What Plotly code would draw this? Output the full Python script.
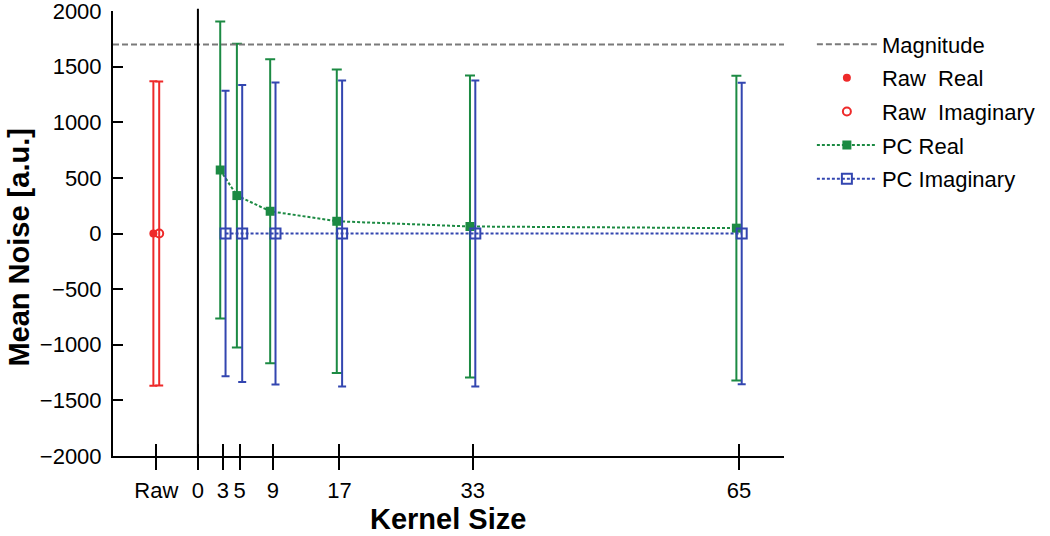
import plotly.graph_objects as go

# ---- data ----
kernel_sizes = [3, 5, 9, 17, 33, 65]
pc_real_mean = [571, 341, 200, 110, 63, 48]
pc_real_sd = [1335, 1366, 1366, 1365, 1358, 1370]
pc_imag_mean = [0, 0, 0, 0, 0, 0]
pc_imag_sd = [1283, 1335, 1358, 1375, 1375, 1355]

raw_position = -5
raw_real_mean = [0]
raw_real_sd = [1370]
raw_imag_mean = [0]
raw_imag_sd = [1368]

magnitude_level = 1700

x_tickvals = [-5, 0, 3, 5, 9, 17, 33, 65]
x_ticktext = ["Raw", "0", "3", "5", "9", "17", "33", "65"]
y_tickvals = [-2000, -1500, -1000, -500, 0, 500, 1000, 1500, 2000]

x_range = [-10.2, 70.4]
y_range = [-2001, 2001]

# ---- styles ----
GREEN = "#1c8a43"
BLUE = "#3346b0"
RED = "#ee2a2a"
GRAY = "#7a7a7a"
FONT = "Liberation Sans, Arial, sans-serif"
off = 0.32

fig = go.Figure()

fig.add_trace(go.Scatter(
    x=x_range, y=[magnitude_level, magnitude_level], xaxis="x2",
    mode="lines", name="Magnitude", legendgroup="a",
    line=dict(color=GRAY, width=2, dash="6px,3px"),
))

fig.add_trace(go.Scatter(
    x=[raw_position - 0.35], y=raw_real_mean, mode="markers",
    name="Raw \u00a0Real", legendgroup="b",
    marker=dict(symbol="circle", size=8, color=RED),
    error_y=dict(type="data", array=raw_real_sd, color=RED, thickness=2, width=4),
))
fig.add_trace(go.Scatter(
    x=[raw_position + 0.35], y=raw_imag_mean, mode="markers",
    name="Raw \u00a0Imaginary", legendgroup="c",
    marker=dict(symbol="circle-open", size=8, color=RED, line=dict(width=2)),
    error_y=dict(type="data", array=raw_imag_sd, color=RED, thickness=2, width=4),
))

fig.add_trace(go.Scatter(
    x=[k - off for k in kernel_sizes], y=pc_real_mean, mode="lines+markers",
    name="PC Real", legendgroup="d",
    line=dict(color=GREEN, width=2, dash="3px,2px"),
    marker=dict(symbol="square", size=9, color=GREEN),
    error_y=dict(type="data", array=pc_real_sd, color=GREEN, thickness=2, width=5),
))
fig.add_trace(go.Scatter(
    x=[k + off for k in kernel_sizes], y=pc_imag_mean, mode="lines+markers",
    name="PC Imaginary", legendgroup="e",
    line=dict(color=BLUE, width=2, dash="3px,2px"),
    marker=dict(symbol="square-open", size=10, color=BLUE, line=dict(width=2)),
    error_y=dict(type="data", array=pc_imag_sd, color=BLUE, thickness=2, width=4),
))

fig.add_shape(type="line", xref="x", yref="paper", x0=0, x1=0, y0=0, y1=1.005,
              line=dict(color="black", width=2))

fig.add_annotation(
    text="<b>Mean Noise [a.u.]</b>", textangle=-90,
    xref="paper", yref="paper", x=(19 - 113) / 672, y=(456 - 247) / 446,
    xanchor="center", yanchor="middle", showarrow=False,
    font=dict(family=FONT, size=29, color="black"),
)
fig.add_annotation(
    text="<b>Kernel Size</b>",
    xref="paper", yref="paper", x=(448 - 113) / 672, y=(456 - 519) / 446,
    xanchor="center", yanchor="middle", showarrow=False,
    font=dict(family=FONT, size=29, color="black"),
)

axis_font = dict(family=FONT, size=22, color="black")
fig.update_layout(
    width=1050, height=536,
    margin=dict(l=113, r=265, t=11, b=80),
    paper_bgcolor="white", plot_bgcolor="white",
    font=dict(family=FONT, color="black"),
    xaxis=dict(
        range=x_range, tickvals=x_tickvals, ticktext=x_ticktext,
        ticks="outside", ticklen=12, tickwidth=2, tickcolor="black",
        showline=True, linewidth=2, linecolor="black",
        showgrid=False, zeroline=False, tickfont=axis_font,
        ticklabelstandoff=2, automargin=False,
    ),
    xaxis2=dict(
        range=x_range, overlaying="x", anchor="y", side="bottom",
        tickvals=x_tickvals, showticklabels=False,
        ticks="inside", ticklen=12, tickwidth=2, tickcolor="black",
        showline=False, showgrid=False, zeroline=False, automargin=False,
    ),
    yaxis=dict(
        range=y_range, tickvals=y_tickvals,
        ticks="inside", ticklen=10, tickwidth=2, tickcolor="black",
        showline=True, linewidth=2, linecolor="black",
        showgrid=False, zeroline=False, tickfont=axis_font,
        ticklabelstandoff=5, automargin=False, ticklabeloverflow="allow",
    ),
    legend=dict(
        x=1.04, xanchor="left", y=0.972, yanchor="top",
        font=dict(family=FONT, size=22, color="black"),
        traceorder="grouped", tracegroupgap=2,
        bgcolor="rgba(0,0,0,0)", itemwidth=60,
    ),
    showlegend=True,
)

fig.write_html("out.html", config={"displayModeBar": False},
               post_script="document.body.style.margin='0';")
